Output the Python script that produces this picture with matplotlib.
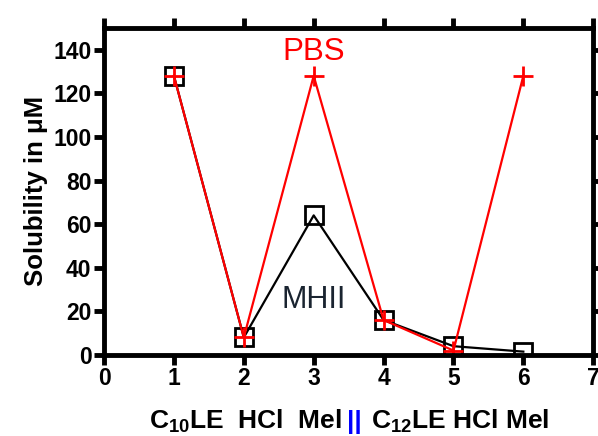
import matplotlib.pyplot as plt

plt.rcParams['font.family'] = ['Liberation Sans', 'DejaVu Sans']
plt.rcParams['mathtext.fontset'] = 'custom'
plt.rcParams['mathtext.rm'] = 'Liberation Sans:bold'
plt.rcParams['mathtext.bf'] = 'Liberation Sans:bold'
plt.rcParams['mathtext.default'] = 'bf'

x = [1, 2, 3, 4, 5, 6]
mhii = [128, 8, 64, 16, 4, 1.5]
pbs = [128, 8, 128, 16, 2, 128]
xticks = [0, 1, 2, 3, 4, 5, 6, 7]
yticks = [0, 20, 40, 60, 80, 100, 120, 140]

fig = plt.figure(figsize=(5.98, 4.36), dpi=100)
ax = fig.add_axes([0.174, 0.186, 0.818, 0.75])

ax.plot(x, mhii, color='black', lw=1.6, marker='s', ms=13, mfc='none', mec='black', mew=2)
ax.plot(x, pbs, color='red', lw=1.6, marker='+', ms=15, mew=2)

ax.set_xlim(0, 7)
ax.set_ylim(0, 150)
ax.set_xticks(xticks)
ax.set_yticks(yticks)
for s in ax.spines.values():
    s.set_linewidth(3.5)
ax.tick_params(axis='both', which='major', direction='out', length=7, width=3.5,
               labelsize=16.5, top=True, right=True, pad=2)
for lab in ax.get_xticklabels() + ax.get_yticklabels():
    lab.set_fontweight('bold')

ax.set_ylabel('Solubility in μM', fontsize=18.5, fontweight='bold', labelpad=4)

ax.text(3, 139, 'PBS', color='red', fontsize=22.5, ha='center', va='center')
ax.text(3, 25, 'MHII', color='#1a2430', fontsize=22, ha='center', va='center')

# x label in three parts, the separator in blue
fig.text(0.572, 0.016, 'C$_{10}$LE  HCl  Mel', fontsize=19, fontweight='bold', ha='right', va='baseline')
fig.text(0.592, 0.016, '||', fontsize=19, fontweight='bold', color='blue', ha='center', va='baseline')
fig.text(0.620, 0.016, 'C$_{12}$LE HCl Mel', fontsize=19, fontweight='bold', ha='left', va='baseline')

plt.savefig('out.png', dpi=100)
